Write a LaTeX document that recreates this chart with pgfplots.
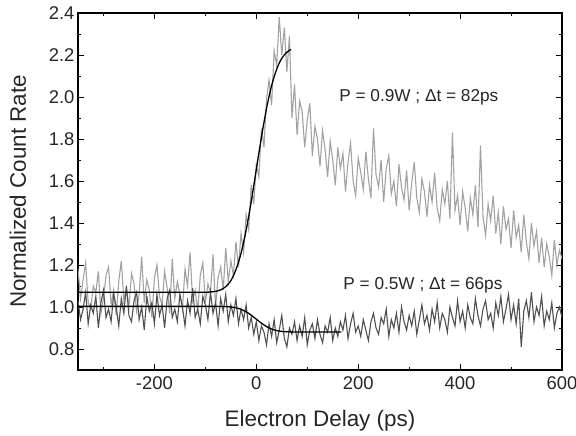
\documentclass[border=0pt]{standalone}
\usepackage{pgfplots}
\pgfplotsset{compat=1.18}
\usepackage{fontspec}
\setmainfont{Liberation Sans}
\definecolor{lightser}{RGB}{160,162,165}
\definecolor{darkser}{RGB}{80,80,82}
\begin{document}
\begin{tikzpicture}
\begin{axis}[
  name=main,
  scale only axis,
  width=484bp, height=357bp,
  xmin=-350, xmax=600, ymin=0.7, ymax=2.4,
  xtick={-200,0,200,400,600},
  minor xtick={-300,-100,100,300,500},
  ytick={0.8,1.0,1.2,1.4,1.6,1.8,2.0,2.2,2.4},
  minor ytick={0.7,0.9,1.1,1.3,1.5,1.7,1.9,2.1,2.3},
  yticklabel style={/pgf/number format/.cd,fixed,fixed zerofill,precision=1},
  /pgf/number format/assume math mode=true,
  tick align=inside,
  major tick length=6bp, minor tick length=3.5bp,
  tick style={line width=1pt, black},
  axis line style={line width=1.2pt, black},
  ticklabel style={font=\fontsize{18.5}{22}\selectfont, text=black!85},
  xticklabel style={yshift=-3bp},
  label style={font=\fontsize{22.5}{27}\selectfont, text=black!85},
  xlabel={Electron Delay (ps)},
  ylabel={Normalized Count Rate},
  xlabel style={yshift=-14bp},
  ylabel style={yshift=16bp},
  clip=true,
]
\addplot[lightser, line width=1.1pt] table {
x y
-350 1.18
-345 1.04
-340 1.13
-335 1.21
-330 1.02
-325 0.99
-320 1.10
-315 1.07
-310 1.17
-305 0.97
-300 1.04
-295 1.15
-290 1.19
-285 1.01
-280 1.08
-275 0.96
-270 1.12
-265 1.22
-260 1.03
-255 1.09
-250 1.00
-245 1.16
-240 1.11
-235 0.98
-230 1.06
-225 1.24
-220 1.02
-215 1.13
-210 1.08
-205 0.95
-200 1.14
-195 1.20
-190 1.05
-185 1.01
-180 1.17
-175 1.09
-170 0.97
-165 1.23
-160 1.04
-155 1.12
-150 1.06
-145 0.99
-140 1.18
-135 1.10
-130 1.26
-125 1.03
-120 1.08
-115 0.98
-110 1.15
-105 1.21
-100 1.02
-95 1.11
-90 1.07
-85 1.25
-80 1.00
-75 1.14
-70 1.19
-65 1.08
-60 1.28
-55 1.12
-50 1.22
-45 1.15
-40 1.31
-35 1.19
-30 1.35
-25 1.26
-20 1.44
-15 1.37
-10 1.58
-5 1.49
0 1.68
5 1.62
10 1.85
15 1.76
20 1.99
25 2.08
30 1.96
35 2.22
40 2.15
45 2.38
50 2.20
55 2.33
60 2.12
65 2.29
70 1.90
75 2.06
80 1.82
85 1.98
90 1.93
95 1.76
100 1.89
105 1.97
110 1.72
115 1.86
120 1.80
125 1.67
130 1.84
135 1.75
140 1.62
145 1.79
150 1.70
155 1.58
160 1.76
165 1.66
170 1.73
175 1.55
180 1.69
185 1.78
190 1.60
195 1.53
200 1.71
205 1.64
210 1.56
215 1.74
220 1.61
225 1.52
230 1.85
235 1.63
240 1.57
245 1.70
250 1.50
255 1.66
260 1.72
265 1.54
270 1.60
275 1.48
280 1.68
285 1.57
290 1.51
295 1.65
300 1.46
305 1.59
310 1.69
315 1.52
320 1.45
325 1.61
330 1.55
335 1.43
340 1.58
345 1.50
350 1.64
355 1.47
360 1.41
365 1.56
370 1.49
375 1.60
380 1.42
385 1.83
390 1.46
395 1.53
400 1.39
405 1.55
410 1.47
415 1.36
420 1.52
425 1.44
430 1.58
435 1.38
440 1.77
445 1.43
450 1.34
455 1.49
460 1.41
465 1.53
470 1.35
475 1.45
480 1.30
485 1.48
490 1.37
495 1.42
500 1.28
505 1.46
510 1.33
515 1.39
520 1.26
525 1.44
530 1.31
535 1.23
540 1.40
545 1.29
550 1.36
555 1.21
560 1.33
565 1.19
570 1.30
575 1.24
580 1.15
585 1.32
590 1.20
595 1.27
600 1.23
};
\addplot[darkser, line width=1.1pt] table {
x y
-350 1.03
-345 0.94
-340 0.99
-335 1.07
-330 0.92
-325 1.01
-320 0.97
-315 1.05
-310 0.90
-305 1.02
-300 1.08
-295 0.95
-290 0.99
-285 0.93
-280 1.06
-275 1.00
-270 0.91
-265 1.04
-260 0.97
-255 1.10
-250 0.96
-245 0.93
-240 1.03
-235 1.07
-230 0.94
-225 1.00
-220 0.89
-215 1.05
-210 0.98
-205 1.02
-200 0.92
-195 1.06
-190 0.96
-185 1.01
-180 0.90
-175 1.04
-170 1.08
-165 0.95
-160 0.99
-155 0.93
-150 1.06
-145 1.00
-140 0.91
-135 1.03
-130 0.97
-125 1.09
-120 0.95
-115 0.99
-110 0.92
-105 1.05
-100 1.01
-95 0.94
-90 1.07
-85 0.97
-80 1.02
-75 0.91
-70 1.04
-65 0.98
-60 1.06
-55 0.93
-50 1.01
-45 0.96
-40 1.04
-35 0.92
-30 0.99
-25 0.94
-20 1.01
-15 0.90
-10 0.95
-5 0.87
0 0.93
5 0.84
10 0.91
15 0.88
20 0.82
25 0.92
30 0.86
35 0.94
40 0.83
45 0.89
50 0.96
55 0.85
60 0.81
65 0.90
70 0.87
75 0.93
80 0.84
85 0.91
90 0.86
95 0.95
100 0.82
105 0.89
110 0.92
115 0.85
120 0.94
125 0.87
130 0.83
135 0.91
140 0.88
145 0.95
150 0.84
155 0.90
160 0.86
165 0.93
170 0.89
175 0.96
180 0.85
185 0.92
190 0.97
195 0.88
200 0.91
205 0.86
210 0.94
215 0.89
220 0.84
225 0.93
230 0.97
235 0.90
240 0.87
245 0.95
250 0.92
255 0.99
260 0.86
265 0.94
270 0.90
275 0.97
280 0.88
285 1.00
290 0.93
295 0.89
300 0.96
305 0.91
310 0.98
315 0.87
320 0.94
325 1.01
330 0.92
335 0.96
340 0.89
345 0.99
350 0.93
355 1.02
360 0.90
365 0.97
370 0.94
375 0.88
380 1.00
385 0.95
390 0.91
395 1.03
400 0.93
405 0.98
410 0.90
415 1.01
420 0.95
425 0.92
430 1.04
435 0.96
440 0.91
445 0.99
450 1.03
455 0.94
460 0.97
465 0.90
470 1.02
475 0.96
480 1.05
485 0.93
490 0.99
495 1.06
500 0.94
505 1.01
510 0.92
515 1.04
520 0.81
525 0.98
530 1.03
535 0.95
540 1.07
545 0.93
550 1.00
555 0.96
560 1.05
565 0.91
570 0.98
575 0.94
580 1.02
585 0.90
590 0.97
595 1.00
600 0.95
};
\addplot[black, line width=1.3pt, smooth] table {
x y
-350 1.070
-150 1.070
-100 1.0705
-90 1.0716
-80 1.0744
-70 1.0816
-60 1.0967
-50 1.1256
-40 1.1774
-30 1.2557
-20 1.3654
-10 1.5022
0 1.655
10 1.8078
20 1.9446
30 2.0543
40 2.1326
50 2.1844
60 2.2133
68 2.2263
};
\addplot[black, line width=1.3pt, smooth] table {
x y
-350 1.003
-100 1.003
-75 1.0028
-60 1.002
-50 1.0002
-40 0.9963
-30 0.989
-20 0.9771
-10 0.961
0 0.942
10 0.923
20 0.9069
30 0.895
40 0.8877
50 0.8838
60 0.882
75 0.8812
100 0.881
167 0.881
};
\node[font=\fontsize{17.3}{20}\selectfont, text=black!85] at (axis cs:319,2.0) {P = 0.9W ; Δt = 82ps};
\node[font=\fontsize{17.3}{20}\selectfont, text=black!85] at (axis cs:327,1.103) {P = 0.5W ; Δt = 66ps};
\end{axis}
\pgfresetboundingbox
\path[use as bounding box] ([shift={(-78bp,-66bp)}]main.south west) rectangle ([shift={(14bp,13bp)}]main.north east);
\end{tikzpicture}
\end{document}
